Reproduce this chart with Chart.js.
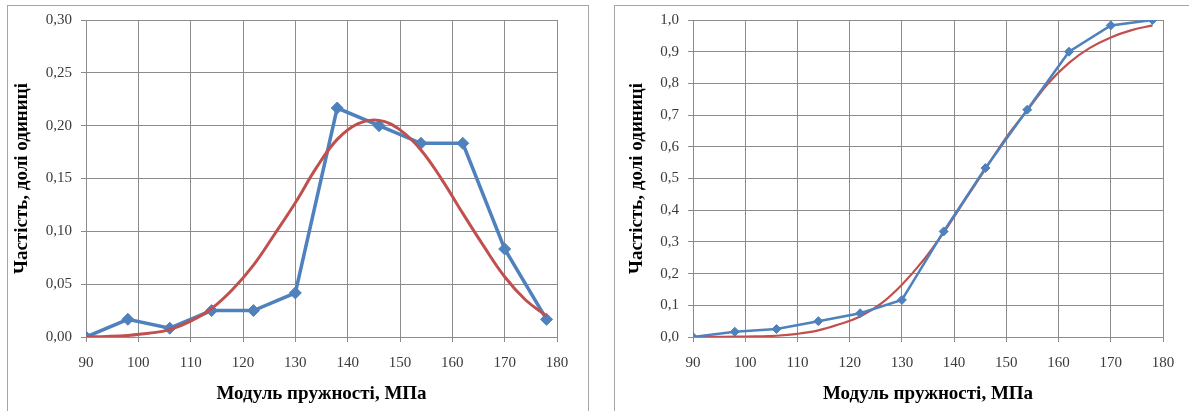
<!DOCTYPE html>
<html>
<head>
<meta charset="utf-8">
<script src="https://cdn.jsdelivr.net/npm/chart.js@4.4.1/dist/chart.umd.min.js"></script>
<style>
  html, body { margin: 0; padding: 0; background: #fff; overflow: hidden; }
  body { width: 1189px; height: 411px; position: relative; }
  .frame { position: absolute; border: 1px solid #a6a6a6; background: #fff; }
  #f1 { left: 7px; top: 5px; width: 580px; height: 420px; }
  #f2 { left: 614px; top: 5px; width: 590px; height: 420px; }
  canvas { position: absolute; left: 0; top: 0; }
</style>
</head>
<body>
<div class="frame" id="f1"><canvas id="freqChart" width="580" height="405"></canvas></div>
<div class="frame" id="f2"><canvas id="cumChart" width="576" height="405"></canvas></div>
<script>
// interval midpoints, MPa
const modulus = [90, 98, 106, 114, 122, 130, 138, 146, 154, 162, 170, 178];
// empirical frequency (share of units)
const freqEmp = [0, 0.0167, 0.0083, 0.025, 0.025, 0.0417, 0.2167, 0.2, 0.1833, 0.1833, 0.0833, 0.0167];
// empirical cumulative frequency
const cumEmp = [0, 0.0167, 0.025, 0.05, 0.075, 0.117, 0.333, 0.533, 0.717, 0.9, 0.983, 1.0];

// theoretical curves
const curveX = [90, 94, 98, 102, 106, 110, 114, 118, 122, 126, 130, 134, 138, 142, 146, 150, 154, 158, 162, 166, 170, 174, 178];
const freqTheor = [0, 0.0005, 0.0015, 0.0035, 0.007, 0.015, 0.027, 0.045, 0.068, 0.097, 0.127, 0.16, 0.187, 0.202, 0.205, 0.196, 0.177, 0.149, 0.117, 0.086, 0.057, 0.035, 0.02];
const cumTheor = [0, 0.0003, 0.001, 0.002, 0.004, 0.01, 0.021, 0.04, 0.065, 0.105, 0.165, 0.24, 0.33, 0.43, 0.53, 0.63, 0.715, 0.8, 0.865, 0.912, 0.945, 0.968, 0.983];

const xTicks = [90, 100, 110, 120, 130, 140, 150, 160, 170, 180];

const blue = '#4f81bd';
const red = '#c0504d';
const gridCol = '#8c8c8c';
const tickCol = '#3a3a3a';
const serif = '"Liberation Serif", "Times New Roman", serif';

function pts(xs, ys) {
  return xs.map((x, i) => ({ x: x, y: ys[i] }));
}

function makeChart(id, cfg) {
  const ctx = document.getElementById(id).getContext('2d');
  return new Chart(ctx, {
    type: 'line',
    data: { datasets: cfg.datasets },
    options: {
      responsive: false,
      animation: false,
      events: [],
      layout: { padding: { left: 0, right: cfg.padRight, top: 14, bottom: 0 } },
      plugins: { legend: { display: false }, tooltip: { enabled: false } },
      scales: {
        x: {
          type: 'linear',
          min: 90,
          max: 180,
          afterBuildTicks: s => { s.ticks = xTicks.map(v => ({ value: v })); },
          afterFit: s => { s.height = 74; s.paddingLeft = 0; s.paddingRight = 0; },
          grid: { color: gridCol, lineWidth: 1, tickLength: 5, drawTicks: true },
          border: { color: gridCol },
          ticks: { color: tickCol, font: { family: serif, size: 15 }, padding: 12, maxRotation: 0 },
          title: {
            display: true,
            text: 'Модуль пружності, МПа',
            color: '#000',
            font: { family: serif, size: 19, weight: 'bold' },
            padding: { top: 0, bottom: 6 }
          }
        },
        y: {
          min: 0,
          max: cfg.yMax,
          afterBuildTicks: s => { s.ticks = cfg.yTicks.map(v => ({ value: v })); },
          afterFit: s => { s.width = 78; s.paddingTop = 0; s.paddingBottom = 0; },
          grid: { color: gridCol, lineWidth: 1, tickLength: 5 },
          border: { color: gridCol },
          ticks: {
            color: tickCol,
            font: { family: serif, size: 15 },
            padding: 9,
            callback: v => v.toFixed(cfg.digits).replace('.', ',')
          },
          title: {
            display: true,
            text: 'Частість, долі одиниці',
            color: '#000',
            font: { family: serif, size: 19, weight: 'bold' },
            padding: { top: cfg.titlePad, bottom: 0 }
          }
        }
      }
    }
  });
}

const yTicksFreq = [0, 0.05, 0.1, 0.15, 0.2, 0.25, 0.3];
const yTicksCum = [0, 0.1, 0.2, 0.3, 0.4, 0.5, 0.6, 0.7, 0.8, 0.9, 1.0];

makeChart('freqChart', {
  yMax: 0.3,
  yTicks: yTicksFreq,
  digits: 2,
  titlePad: 3,
  padRight: 31,
  datasets: [
    {
      data: pts(curveX, freqTheor),
      borderColor: red,
      borderWidth: 3,
      pointRadius: 0,
      tension: 0.4,
      fill: false
    },
    {
      data: pts(modulus, freqEmp),
      borderColor: blue,
      backgroundColor: blue,
      borderWidth: 3.5,
      pointStyle: 'rectRot',
      pointRadius: 6,
      pointBorderWidth: 1,
      tension: 0,
      fill: false
    }
  ]
});

makeChart('cumChart', {
  yMax: 1.0,
  yTicks: yTicksCum,
  digits: 1,
  titlePad: 11,
  padRight: 28,
  datasets: [
    {
      data: pts(modulus, cumEmp),
      borderColor: blue,
      backgroundColor: blue,
      borderWidth: 2.5,
      pointStyle: 'rectRot',
      pointRadius: 4.5,
      pointBorderWidth: 1,
      tension: 0,
      fill: false
    },
    {
      data: pts(curveX, cumTheor),
      borderColor: red,
      borderWidth: 2.2,
      pointRadius: 0,
      tension: 0.4,
      fill: false
    }
  ]
});
</script>
</body>
</html>
